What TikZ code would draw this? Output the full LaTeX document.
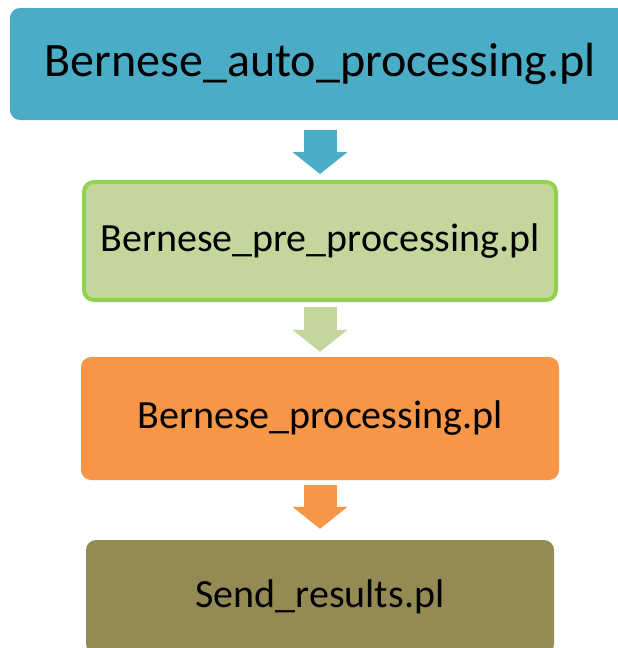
\documentclass[tikz,border=0pt]{standalone}
\usepackage{fontspec}
\setmainfont{Carlito}
\usetikzlibrary{arrows.meta}
\definecolor{cblue}{HTML}{4BACC6}
\definecolor{cgreenfill}{HTML}{C3D69B}
\definecolor{cgreenline}{HTML}{92D050}
\definecolor{corange}{HTML}{F79646}
\definecolor{colive}{HTML}{948A54}
\begin{document}
\begin{tikzpicture}[x=1pt,y=-1pt,
  box/.style={rectangle, rounded corners=10pt, inner sep=0pt, text=black},
  bigtext/.style={font=\fontsize{48}{56}\selectfont},
  midtext/.style={font=\fontsize{40}{48}\selectfont},
  fat/.style={line width=33pt, -{Triangle[width=54pt,length=22pt]}}]
\useasboundingbox (0,0) rectangle (618,648);
\clip (0,0) rectangle (618,648);
\node[box, bigtext, fill=cblue, minimum width=620pt, minimum height=112pt] (auto) at (320,64) {Bernese\_auto\_processing.pl};
\node[box, midtext, fill=cgreenfill, draw=cgreenline, line width=4pt, minimum width=472pt, minimum height=118pt] (pre) at (320,241) {Bernese\_pre\_processing.pl};
\node[box, midtext, fill=corange, minimum width=478pt, minimum height=123pt] (proc) at (320,418.5) {Bernese\_processing.pl};
\node[box, midtext, fill=colive, minimum width=468pt, minimum height=114pt] (send) at (320,597) {Send\_results.pl};
\draw[fat, cblue] ([yshift=-10pt]auto.south) -- ([yshift=6pt]pre.north);
\draw[fat, cgreenfill] ([yshift=-5pt]pre.south) -- ([yshift=5pt]proc.north);
\draw[fat, corange] ([yshift=-5pt]proc.south) -- ([yshift=11pt]send.north);
\end{tikzpicture}
\end{document}
